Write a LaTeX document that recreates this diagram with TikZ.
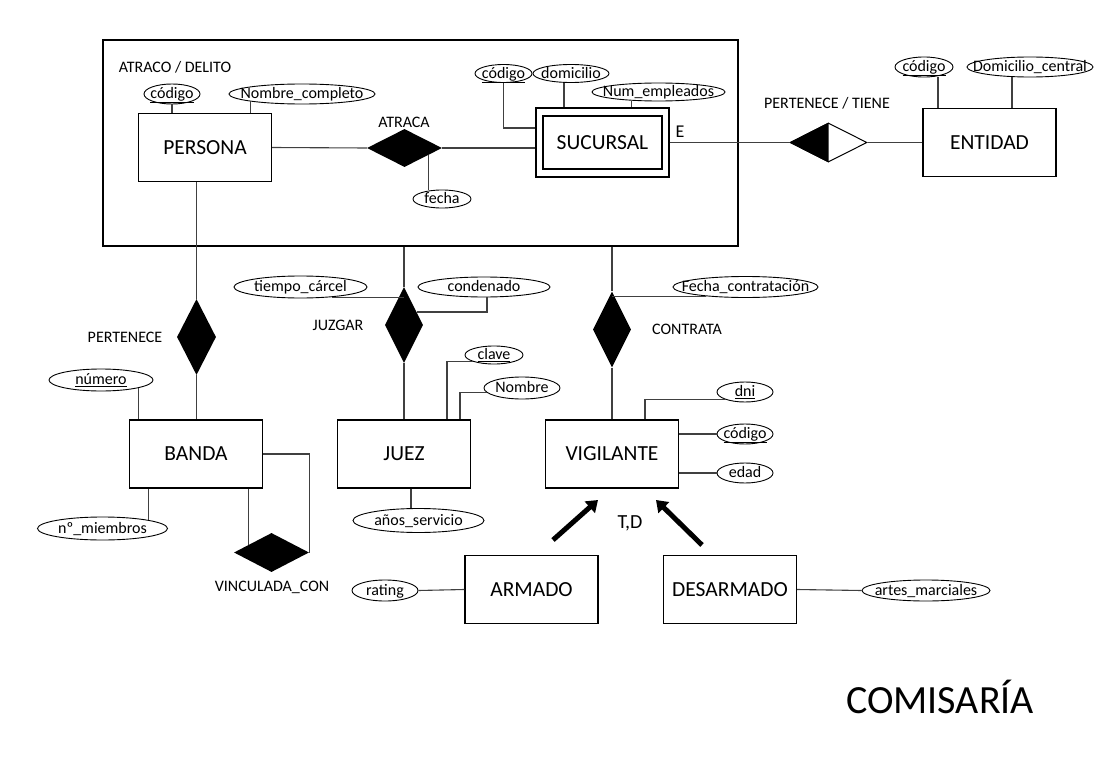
\documentclass[tikz,border=0pt]{standalone}
\usepackage{fontspec}
\setmainfont{Carlito}
\usetikzlibrary{shapes.geometric,arrows.meta,calc}
\newcommand\zb[1]{\makebox[0pt]{#1}}
\begin{document}
\begin{tikzpicture}[x=1pt,y=-1pt,
 entity/.style={draw=black, line width=1.1pt, rectangle, inner sep=0pt, minimum width=133pt, minimum height=68pt, font=\fontsize{21.5}{25}\selectfont},
 attr/.style={draw=black, line width=0.9pt, ellipse, inner sep=0pt, minimum height=20pt, text height=10pt, text depth=1pt, font=\fontsize{16}{18}\selectfont},
 rel/.style={diamond, fill=black, inner sep=0pt},
 lbl/.style={font=\fontsize{16}{18}\selectfont, inner sep=0pt},
 conn/.style={draw=black!75, line width=1.1pt},
 isa/.style={line width=5pt, -{Triangle[length=11pt,width=15pt]}}
]
\useasboundingbox (0,0) rectangle (1112,760);

% outer aggregation box
\node[draw, line width=1.1pt, minimum width=635pt, minimum height=206pt, inner sep=0pt] (delito) at (420.5,143) {};
\node[lbl] (delitoL) at (175,67) {ATRACO / DELITO};

% entities
\node[entity] (persona) at (205,147.5) {PERSONA};
\node[draw, line width=1.4pt, minimum width=133pt, minimum height=69pt, inner sep=0pt] (sucOut) at (602.5,142.5) {};
\node[entity, line width=1.4pt, minimum width=119pt, minimum height=53pt] (sucursal) at (602.5,142.5) {SUCURSAL};
\node[entity] (entidad) at (989.5,142.5) {ENTIDAD};
\node[entity] (banda) at (196,454) {BANDA};
\node[entity] (juez) at (404,454) {JUEZ};
\node[entity] (vig) at (612,454) {VIGILANTE};
\node[entity] (armado) at (531.5,589.5) {ARMADO};
\node[entity] (desarmado) at (730,589.5) {DESARMADO};

% relationships
\node[rel, minimum width=75pt, minimum height=38pt] (atraca) at (404.5,148) {};
\node[lbl] (atracaL) at (404,122) {ATRACA};
\node[diamond, draw, line width=1pt, inner sep=0pt, minimum width=77pt, minimum height=39pt] (pert) at (828.5,142.5) {};
\fill (pert.north) -- (pert.west) -- (pert.south) -- cycle;
\node[lbl] (pertL) at (827,103) {PERTENECE / TIENE};
\node[rel, minimum width=39pt, minimum height=76pt] (pertenece) at (196.5,337) {};
\node[lbl] (perteneceL) at (125,337) {PERTENECE};
\node[rel, minimum width=75pt, minimum height=39pt] (vinc) at (271.5,552.5) {};
\node[lbl] (vincL) at (272,587) {VINCULADA\_CON};
\node[rel, minimum width=38pt, minimum height=76pt] (juzgar) at (404,325) {};
\node[lbl] (juzgarL) at (338,325) {JUZGAR};
\node[rel, minimum width=38pt, minimum height=76pt] (contrata) at (612,329.5) {};
\node[lbl] (contrataL) at (687,329) {CONTRATA};

% attributes
\node[attr, minimum width=56pt] (codP) at (172,94) {\zb{\underline{código}}};
\node[attr, minimum width=146pt] (nomC) at (302,94) {\zb{Nombre\_completo}};
\node[attr, minimum width=58pt, minimum height=18pt] (fecha) at (442,199) {\zb{fecha}};
\node[attr, minimum width=57pt, minimum height=18pt] (codS) at (503.5,73.5) {\zb{\underline{código}}};
\node[attr, minimum width=76pt, minimum height=18pt] (dom) at (571,73.5) {\zb{domicilio}};
\node[attr, minimum width=133pt, minimum height=18pt] (numE) at (658.5,92) {\zb{Num\_empleados}};
\node[attr, minimum width=58pt] (codE) at (924,67) {\zb{\underline{código}}};
\node[attr, minimum width=126pt] (domC) at (1030,67) {\zb{Domicilio\_central}};
\node[attr, minimum width=104pt, minimum height=22pt] (numero) at (101,380) {\zb{\underline{número}}};
\node[attr, minimum width=130pt, minimum height=23pt] (nmiem) at (102.5,528.5) {\zb{nº\_miembros}};
\node[attr, minimum width=133pt, minimum height=22pt] (tiempo) at (300.5,287) {\zb{tiempo\_cárcel}};
\node[attr, minimum width=132pt] (conden) at (484,287) {\zb{condenado}};
\node[attr, minimum width=58pt, minimum height=18pt] (clave) at (494,355) {\zb{\underline{clave}}};
\node[attr, minimum width=76pt, minimum height=22pt] (nombre) at (522,388) {\zb{Nombre}};
\node[attr, minimum width=131pt, minimum height=24pt] (anos) at (418.5,520.5) {\zb{años\_servicio}};
\node[attr, minimum width=145pt, minimum height=21pt] (fechaC) at (745.5,287) {\zb{Fecha\_contratación}};
\node[attr, minimum width=56pt] (dni) at (745,392) {\zb{\underline{dni}}};
\node[attr, minimum width=56pt] (codV) at (745,434) {\zb{\underline{código}}};
\node[attr, minimum width=56pt] (edad) at (745,473) {\zb{edad}};
\node[attr, minimum width=66pt, minimum height=21pt] (rating) at (385,590.5) {\zb{rating}};
\node[attr, minimum width=128pt, minimum height=21pt] (artes) at (926,590.5) {\zb{artes\_marciales}};

% other labels
\node[font=\fontsize{18}{20}\selectfont, inner sep=0pt] (eL) at (680,132) {E};
\node[font=\fontsize{20}{22}\selectfont, inner sep=0pt] (tdL) at (630,523) {T,D};
\node[font=\fontsize{40}{44}\selectfont, inner sep=0pt, anchor=base] (title) at (940,713) {COMISARÍA};

% connectors: inside box
\draw[conn] (persona.east) -- (atraca.west);
\draw[conn] (atraca.east) -- (atraca.east -| sucOut.west);
\coordinate (fp) at ($(atraca.south)!0.64!(atraca.east)$);
\draw[conn] (fp) -- (fp |- fecha.north);
\draw[conn] (codP.south) -- (codP.south |- persona.north);
\draw[conn] (nomC.south west) -- (nomC.south west |- persona.north);
\draw[conn] (codS.south) |- ([yshift=14.5pt]sucOut.west);
\draw[conn] ([xshift=-7pt]dom.south) -- ([xshift=-7pt]dom.south |- sucOut.north);
\draw[conn] ([xshift=-27pt]numE.south) -- ([xshift=-27pt]numE.south |- sucOut.north);

% pertenece / tiene
\draw[conn] (sucOut.east) -- (pert.west);
\draw[conn] (pert.east) -- (entidad.west);
\draw[conn] ([xshift=14pt]codE.south) -- ([xshift=14pt]codE.south |- entidad.north);
\draw[conn] ([xshift=-18pt]domC.south) -- ([xshift=-18pt]domC.south |- entidad.north);

% pertenece (persona - banda)
\draw[conn] (pertenece.north |- persona.south) -- (pertenece.north);
\draw[conn] (pertenece.south) -- (pertenece.south |- banda.north);
\draw[conn] (numero.south east) -- (numero.south east |- banda.north);
\draw[conn] (nmiem.north east) -- (nmiem.north east |- banda.south);
\coordinate (vp) at ($(vinc.west)!0.387!(vinc.north)$);
\draw[conn] (vp |- banda.south) -- (vp);
\draw[conn] (banda.east) -| (vinc.east);

% juzgar
\draw[conn] (juzgar.north |- delito.south) -- (juzgar.north);
\draw[conn] (tiempo.-18) -- (tiempo.-18 -| juzgar.north);
\coordinate (cp) at ($(juzgar.north)!0.66!(juzgar.east)$);
\draw[conn] ([xshift=3pt]conden.south) |- (cp);
\draw[conn] (juzgar.south) -- (juzgar.south |- juez.north);
\draw[conn] ([xshift=43pt]juez.north) |- (clave.south west);
\draw[conn] ([xshift=56pt]juez.north) |- (nombre.188);
\draw[conn] ([xshift=7pt]juez.south) -- ([xshift=7pt]juez.south |- anos.north);

% contrata
\draw[conn] (contrata.north |- delito.south) -- (contrata.north);
\draw[conn] (fechaC.193) -- (fechaC.193 -| contrata.north);
\draw[conn] (contrata.south) -- (contrata.south |- vig.north);
\draw[conn] ([xshift=33pt]vig.north) |- (dni.south west);
\draw[conn] (codV.west -| vig.east) -- (codV.west);
\draw[conn] (edad.west -| vig.east) -- (edad.west);

% specialization
\coordinate (a1s) at (553,540);
\coordinate (a1e) at (598,500);
\coordinate (a2s) at (702,545);
\coordinate (a2e) at (656,500);
\draw[isa] (a1s) -- (a1e);
\draw[isa] (a2s) -- (a2e);
\draw[conn] (rating.east) -- (armado.west);
\draw[conn] (desarmado.east) -- (artes.west);
\end{tikzpicture}
\end{document}
